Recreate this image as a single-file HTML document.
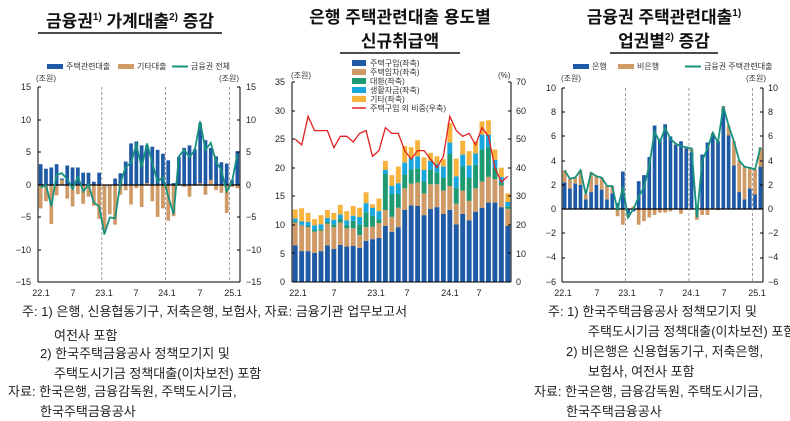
<!DOCTYPE html>
<html><head><meta charset="utf-8">
<style>
html,body{margin:0;padding:0;background:#fff;}
svg{display:block;font-family:"Liberation Sans","Noto Sans CJK KR",sans-serif;}
.t{font-size:17px;font-weight:bold;fill:#111;}
.n{font-size:13px;fill:#222;}
.ax{font-size:9px;fill:#222;}
.lg{font-size:8px;fill:#333;}
</style></head><body>
<svg id="s" width="790" height="421" viewBox="0 0 790 421" xmlns="http://www.w3.org/2000/svg">
<text class="t" x="130" y="27" text-anchor="middle">금융권<tspan font-size="10" dy="-7">1)</tspan><tspan dy="7"> 가계대출</tspan><tspan font-size="10" dy="-7">2)</tspan><tspan dy="7"> 증감</tspan></text>
<line x1="38" y1="33" x2="222" y2="33" stroke="#111" stroke-width="1.5"/>
<text class="t" x="400" y="23" text-anchor="middle">은행 주택관련대출 용도별</text>
<text class="t" x="400" y="47" text-anchor="middle">신규취급액</text>
<line x1="340" y1="53" x2="460" y2="53" stroke="#111" stroke-width="1.5"/>
<text class="t" x="664" y="23" text-anchor="middle">금융권 주택관련대출<tspan font-size="10" dy="-7">1)</tspan></text>
<text class="t" x="664" y="47" text-anchor="middle">업권별<tspan font-size="10" dy="-7">2)</tspan><tspan dy="7"> 증감</tspan></text>
<line x1="610" y1="53" x2="718" y2="53" stroke="#111" stroke-width="1.5"/>

<rect x="47" y="64" width="16" height="5" fill="#1f5aa6"/><text class="lg" x="66" y="69">주택관련대출</text>
<rect x="118" y="64" width="16" height="5" fill="#d09a66"/><text class="lg" x="137" y="69">기타대출</text>
<line x1="172" y1="66.5" x2="188" y2="66.5" stroke="#17927e" stroke-width="2"/><text class="lg" x="191" y="69">금융권 전체</text>
<text class="lg" x="36" y="81">(조원)</text><text class="lg" x="219" y="81">(조원)</text>
<rect x="352" y="60" width="14" height="6" fill="#1f5aa6"/><text class="lg" x="370" y="66">주택구입(좌축)</text>
<rect x="352" y="69" width="14" height="6" fill="#d09a66"/><text class="lg" x="370" y="75">주택임차(좌축)</text>
<rect x="352" y="78" width="14" height="6" fill="#1e9a73"/><text class="lg" x="370" y="84">대환(좌축)</text>
<rect x="352" y="87" width="14" height="6" fill="#1aa7e0"/><text class="lg" x="370" y="93">생활자금(좌축)</text>
<rect x="352" y="96" width="14" height="6" fill="#f7b33c"/><text class="lg" x="370" y="102">기타(좌축)</text>
<line x1="352" y1="108" x2="366" y2="108" stroke="#e02020" stroke-width="1.5"/><text class="lg" x="370" y="111">주택구입 외 비중(우축)</text>
<text class="lg" x="291" y="78">(조원)</text><text class="lg" x="498" y="78">(%)</text>
<rect x="573" y="64" width="16" height="5" fill="#1f5aa6"/><text class="lg" x="592" y="69">은행</text>
<rect x="618" y="64" width="16" height="5" fill="#d09a66"/><text class="lg" x="637" y="69">비은행</text>
<line x1="685" y1="66.5" x2="701" y2="66.5" stroke="#17927e" stroke-width="2"/><text class="lg" x="704" y="69">금융권 주택관련대출</text>
<text class="lg" x="561" y="81">(조원)</text><text class="lg" x="746" y="81">(조원)</text>

<g class="ax" text-anchor="end">
<text x="31" y="90">15</text><text x="31" y="123">10</text><text x="31" y="155">5</text><text x="31" y="188">0</text><text x="31" y="220">−5</text><text x="31" y="253">−10</text><text x="31" y="285">−15</text>
</g>
<g class="ax">
<text x="246" y="90">15</text><text x="246" y="123">10</text><text x="246" y="155">5</text><text x="246" y="188">0</text><text x="246" y="220">−5</text><text x="246" y="253">−10</text><text x="246" y="285">−15</text>
</g>
<g class="ax" text-anchor="middle">
<text x="41" y="296">22.1</text><text x="73" y="296">7</text><text x="104" y="296">23.1</text><text x="136" y="296">7</text><text x="167" y="296">24.1</text><text x="200" y="296">7</text><text x="233" y="296">25.1</text>
</g>
<g class="ax" text-anchor="end">
<text x="285" y="85">35</text><text x="285" y="114">30</text><text x="285" y="142">25</text><text x="285" y="171">20</text><text x="285" y="199">15</text><text x="285" y="228">10</text><text x="285" y="257">5</text><text x="285" y="285">0</text>
</g>
<g class="ax">
<text x="516" y="85">70</text><text x="516" y="114">60</text><text x="516" y="142">50</text><text x="516" y="171">40</text><text x="516" y="199">30</text><text x="516" y="228">20</text><text x="516" y="257">10</text><text x="516" y="285">0</text>
</g>
<g class="ax" text-anchor="middle">
<text x="298" y="296">22.1</text><text x="334" y="296">7</text><text x="376" y="296">23.1</text><text x="407" y="296">7</text><text x="450" y="296">24.1</text><text x="479" y="296">7</text>
</g>
<g class="ax" text-anchor="end">
<text x="556" y="91">10</text><text x="556" y="115">8</text><text x="556" y="139">6</text><text x="556" y="164">4</text><text x="556" y="188">2</text><text x="556" y="212">0</text><text x="556" y="236">−2</text><text x="556" y="260">−4</text><text x="556" y="285">−6</text>
</g>
<g class="ax">
<text x="768" y="91">10</text><text x="768" y="115">8</text><text x="768" y="139">6</text><text x="768" y="164">4</text><text x="768" y="188">2</text><text x="768" y="212">0</text><text x="768" y="236">−2</text><text x="768" y="260">−4</text><text x="768" y="285">−6</text>
</g>
<g class="ax" text-anchor="middle">
<text x="563" y="296">22.1</text><text x="597" y="296">7</text><text x="627" y="296">23.1</text><text x="661" y="296">7</text><text x="691" y="296">24.1</text><text x="724" y="296">7</text><text x="757" y="296">25.1</text>
</g>

<g class="n">
<text x="22" y="316">주: 1) 은행, 신용협동기구, 저축은행, 보험사, 자료: 금융기관 업무보고서</text>
<text x="54" y="340">여전사 포함</text>
<text x="40" y="358">2) 한국주택금융공사 정책모기지 및</text>
<text x="54" y="378">주택도시기금 정책대출(이차보전) 포함</text>
<text x="8" y="396">자료: 한국은행, 금융감독원, 주택도시기금,</text>
<text x="40" y="416">한국주택금융공사</text>
<text x="548" y="316">주: 1) 한국주택금융공사 정책모기지 및</text>
<text x="588" y="336">주택도시기금 정책대출(이차보전) 포함</text>
<text x="566" y="356">2) 비은행은 신용협동기구, 저축은행,</text>
<text x="588" y="376">보험사, 여전사 포함</text>
<text x="534" y="396">자료: 한국은행, 금융감독원, 주택도시기금,</text>
<text x="566" y="416">한국주택금융공사</text>
</g>
<g id="g"></g>
</svg>
<script>
var NS="http://www.w3.org/2000/svg",G=document.getElementById("g");
function el(t,a){var e=document.createElementNS(NS,t);for(var k in a)e.setAttribute(k,a[k]);G.appendChild(e);return e;}
function frame(x0,x1,y0,y1,ticksY,zeroY,vlines){
  if(zeroY!==null)el("line",{x1:x0,x2:x1,y1:zeroY,y2:zeroY,stroke:"#000","stroke-width":1.2});
  vlines.forEach(function(x){el("line",{x1:x,x2:x,y1:y0,y2:y1,stroke:"#888","stroke-dasharray":"3,2","stroke-width":0.8});});
  el("line",{x1:x0,x2:x0,y1:y0,y2:y1,stroke:"#000"});
  el("line",{x1:x1,x2:x1,y1:y0,y2:y1,stroke:"#000"});
  el("line",{x1:x0,x2:x1,y1:y1,y2:y1,stroke:"#000"});
  ticksY.forEach(function(y){el("line",{x1:x0,x2:x0+3,y1:y,y2:y,stroke:"#000"});el("line",{x1:x1-3,x2:x1,y1:y,y2:y,stroke:"#000"});});
}
(function(){
var x0=38,x1=240,zy=185,u=6.5,n=38,w=(x1-x0)/n;
var h=[3.2,2.5,2.7,3.2,1.0,3.0,2.7,2.7,1.9,1.9,0.5,1.9,-0.6,-0.5,1.0,1.8,3.6,6.4,6.7,6.1,6.1,5.9,5.4,4.8,3.8,0.3,4.3,5.7,6.1,5.5,9.5,6.9,5.7,4.4,3.5,3.3,0.8,5.2];
var o=[-3.6,-2.5,-6.0,-1.6,0.8,-2.1,-3.3,-1.4,-2.9,-1.8,-3.2,-5.2,-7.0,-4.5,-6.1,-1.5,-0.8,-3.0,-0.5,-3.4,0.3,-2.5,-4.9,-3.6,-5.5,-4.8,0.1,-0.3,-1.8,-0.1,0.3,-1.5,0.8,-0.8,-1.2,-4.3,-0.3,-0.5];
var pts=[];
for(var i=0;i<n;i++){var x=x0+i*w+w*0.15,bw=w*0.7;
 [[h[i],"#1f5aa6"],[o[i],"#d09a66"]].forEach(function(p){var v=p[0];el("rect",{x:x,width:bw,y:v>=0?zy-v*u:zy,height:Math.abs(v)*u,fill:p[1]});});
 pts.push((x0+i*w+w/2).toFixed(1)+","+(zy-(h[i]+o[i])*u).toFixed(1));}
frame(x0,x1,87,282,[87,120,152,185,217,250,282],zy,[x0+12*w,x0+24*w,x0+36*w]);
el("polyline",{points:pts.join(" "),fill:"none",stroke:"#17927e","stroke-width":1.8});
})();
(function(){
var x0=292,x1=511,zy=282,u=200/35,n=34,w=(x1-x0)/n;
var tot=[12.7,12.9,12.1,11.0,11.7,12.6,12.1,13.5,12.4,13.3,13.0,15.7,13.6,14.6,21.2,18.7,20.2,23.8,23.6,24.8,21.8,22.6,22.0,21.5,27.8,21.6,24.7,22.9,24.6,28.1,28.3,23.2,20.0,15.5];
var pur=[6.4,5.4,5.4,5.1,5.4,6.4,5.8,6.5,6.2,6.3,6.0,7.2,7.5,7.7,9.8,8.8,9.6,12.6,13.4,13.3,11.7,12.8,13.1,11.9,12.6,10.1,11.9,10.8,12.3,13.0,13.9,13.9,13.1,9.8];
var ten=[4.0,4.5,4.2,3.7,3.6,3.8,3.8,3.9,3.2,3.1,2.2,2.4,2.2,2.6,2.8,2.6,3.4,3.8,3.8,4.1,3.8,4.3,4.0,4.1,4.2,3.6,4.1,3.4,4.1,4.6,4.5,4.1,3.8,3.0];
var ref=[0.2,0.1,0.2,0.3,0.3,0.3,0.5,0.7,0.6,1.3,1.9,2.6,1.9,0.7,6.3,4.0,2.4,2.4,2.5,2.5,2.1,2.6,2.1,2.2,5.6,2.8,4.2,4.0,4.1,5.6,5.2,2.0,0.5,0.4];
var liv=[0.5,0.6,0.7,0.8,0.8,0.7,0.8,0.7,0.8,0.9,1.3,1.6,1.4,1.4,0.7,1.4,1.9,2.1,2.0,2.1,2.0,1.5,1.5,2.0,2.0,2.0,2.1,2.2,2.0,2.6,2.2,1.4,1.0,0.8];
var pct=[50,48,58,53,53,53,47,51,51,49,52,53,44,46,54,52,52,46,43,46,46,43,40,44,58,53,51,52,48,54,51,40,35,37];
var pts=[];
for(var i=0;i<n;i++){var x=x0+i*w+w*0.12,bw=w*0.76,y=zy;
 var oth=Math.max(0,tot[i]-pur[i]-ten[i]-ref[i]-liv[i]);
 [[pur[i],"#1f5aa6"],[ten[i],"#d09a66"],[ref[i],"#1e9a73"],[liv[i],"#1aa7e0"],[oth,"#f7b33c"]].forEach(function(p){var hh=p[0]*u;el("rect",{x:x,width:bw,y:y-hh,height:hh,fill:p[1]});y-=hh;});
 pts.push((x0+i*w+w/2).toFixed(1)+","+(zy-pct[i]*200/70).toFixed(1));}
frame(x0,x1,82,282,[82,111,139,168,196,225,253,282],null,[]);
el("polyline",{points:pts.join(" "),fill:"none",stroke:"#e02020","stroke-width":1.3});
})();
(function(){
var x0=562,x1=763,zy=209,u=12.1,n=38,w=(x1-x0)/n;
var b=[2.2,1.7,2.1,2.0,0.8,1.4,2.0,1.6,0.8,1.3,0.5,3.1,-0.4,-0.2,2.3,2.8,4.3,6.9,5.8,7.0,6.0,5.3,5.6,5.0,4.7,0.2,4.5,5.5,6.2,5.6,8.3,6.1,3.6,1.4,0.8,1.7,1.2,3.5];
var nb=[1.0,0.8,0.5,1.2,0.4,1.6,0.7,1.0,1.1,0.6,-0.6,-1.3,-0.3,0.2,-1.3,-1.0,-0.7,-0.5,-0.3,-0.3,-0.2,0.1,-0.4,0.1,0.3,-0.9,-0.5,-0.5,0.1,-0.1,0.2,0.8,2.0,2.6,2.7,1.7,2.1,1.6];
var pts=[];
for(var i=0;i<n;i++){var x=x0+i*w+w*0.15,bw=w*0.7;
 var posBase=0,negBase=0;
 [[b[i],"#1f5aa6"],[nb[i],"#d09a66"]].forEach(function(p){var v=p[0];
  if(v>=0){el("rect",{x:x,width:bw,y:zy-(posBase+v)*u,height:v*u,fill:p[1]});posBase+=v;}
  else{el("rect",{x:x,width:bw,y:zy+negBase*u,height:-v*u,fill:p[1]});negBase+=-v;}});
 pts.push((x0+i*w+w/2).toFixed(1)+","+(zy-(b[i]+nb[i])*u).toFixed(1));}
frame(x0,x1,88,282,[88,112,136,161,185,209,233,258,282],zy,[x0+12*w,x0+24*w,x0+36*w]);
el("polyline",{points:pts.join(" "),fill:"none",stroke:"#17927e","stroke-width":1.8});
})();
</script>
</body></html>
